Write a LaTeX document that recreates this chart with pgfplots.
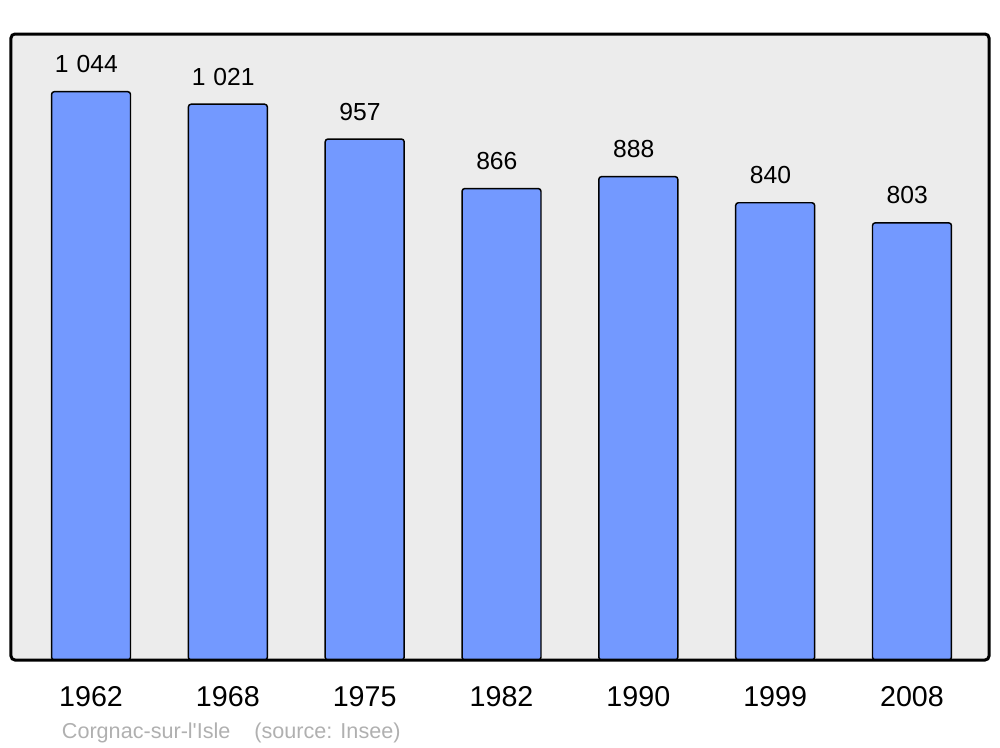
\documentclass[border=0pt]{standalone}
\usepackage{fontspec}
\setmainfont{Liberation Sans}
\usepackage{pgfplots}
\pgfplotsset{compat=1.18}
\definecolor{barblue}{RGB}{115,153,255}
\definecolor{bggray}{RGB}{236,236,236}
\definecolor{capgray}{RGB}{176,176,176}
\begin{document}
\begin{tikzpicture}
\begin{axis}[
  scale only axis,
  width=733.5pt, height=469.5pt,
  xmin=-0.585, xmax=6.563,
  ymin=0, ymax=1150,
  axis line style={draw=none},
  axis background/.style={fill=bggray, rounded corners=3pt},
  ytick=\empty,
  xtick={0,1,2,3,4,5,6},
  xticklabels={1962,1968,1975,1982,1990,1999,2008},
  major tick length=0pt,
  xticklabel style={font=\fontsize{21.5}{24}\selectfont, anchor=base, yshift=-34.5pt, inner sep=0pt},
  clip=false,
  ybar, bar width=0.577,
  nodes near coords,
  point meta=explicit symbolic,
  every node near coord/.style={font=\fontsize{18.5}{21}\selectfont, anchor=base, inner sep=0pt, yshift=14.25pt, xshift=-3.5pt, text=black},
]
\addplot[fill=barblue, draw=black, line width=1.1pt, rounded corners=2pt] coordinates {
 (0,1044) [1\hspace{6pt}044]
 (1,1021) [1\hspace{6pt}021]
 (2,957) [957]
 (3,866) [866]
 (4,888) [888]
 (5,840) [840]
 (6,803) [803]
};
\draw[black, line width=2.25pt, rounded corners=3pt] (rel axis cs:0,0) rectangle (rel axis cs:1,1);
\node[anchor=base west, inner sep=0pt, text=capgray, font=\fontsize{16.2}{18}\selectfont] at (rel axis cs:0,0) [xshift=38pt, yshift=-58.5pt] {Corgnac-sur-l\textquotesingle Isle\hspace{18pt}(source: Insee)};
\end{axis}
\path ([xshift=-8.25pt,yshift=-65.25pt]current axis.south west) rectangle ([xshift=8.25pt,yshift=25.5pt]current axis.north east);
\end{tikzpicture}
\end{document}
